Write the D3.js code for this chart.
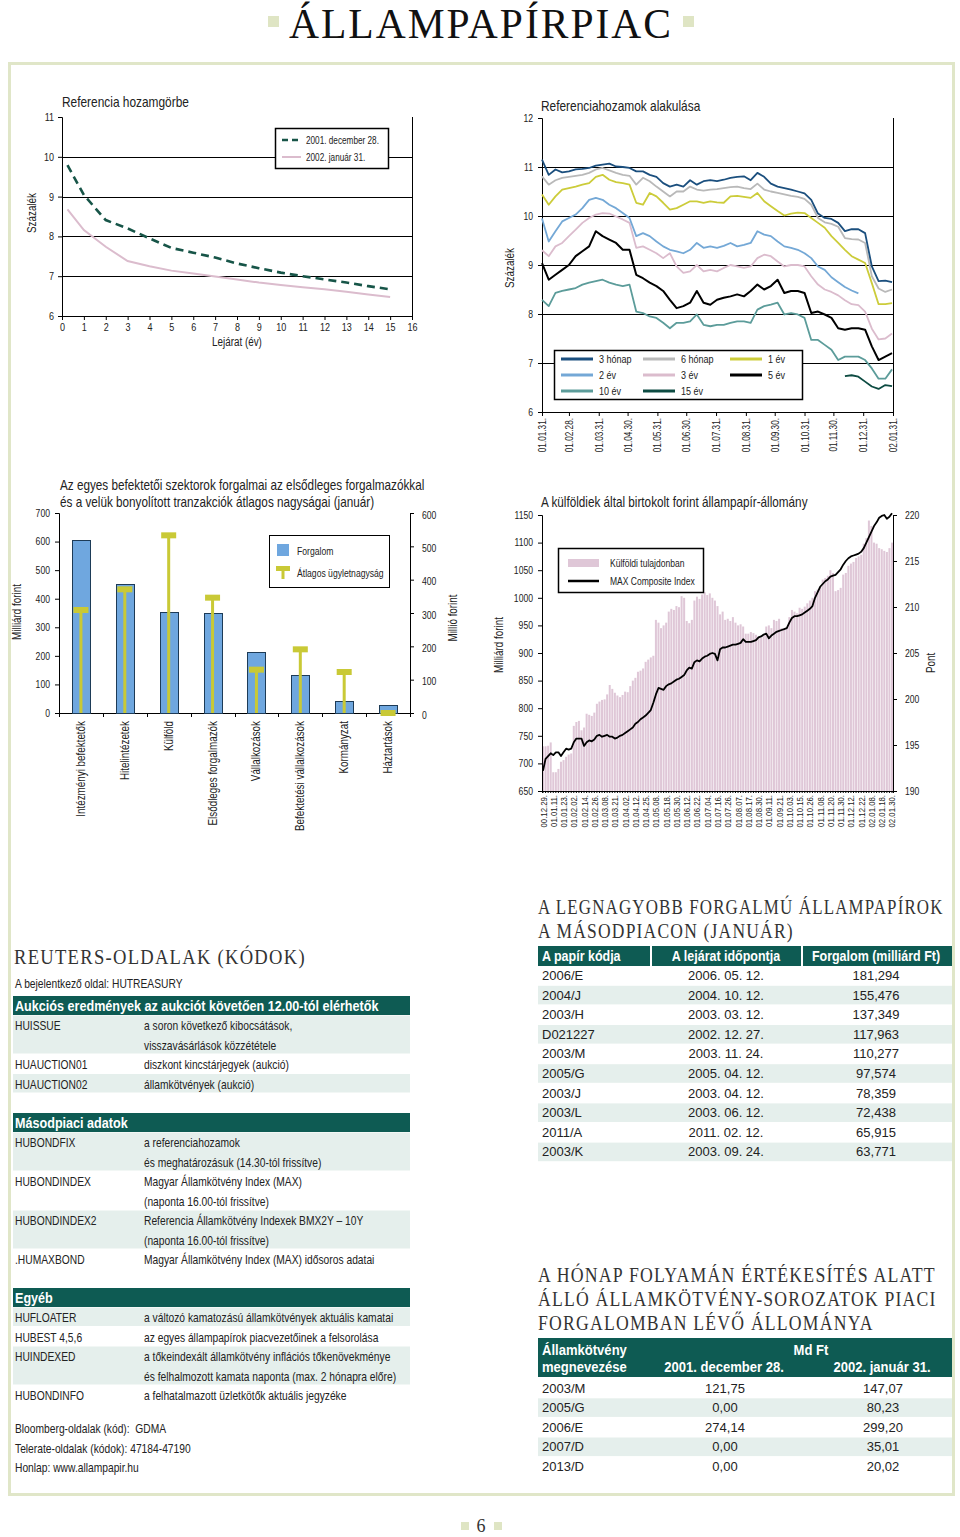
<!DOCTYPE html>
<html><head><meta charset="utf-8">
<script src="https://cdn.jsdelivr.net/npm/d3@7"></script>
<style>
body{margin:0;background:#fff}
svg{display:block}
</style>
</head><body>
<svg id="c" width="960" height="1537"></svg>
<script>
// ================= DATA =================
// Chart 1: Referencia hozamgörbe
const curveMaturity = [0.25,1,2,3,4,5,6,7,8,9,10,11,12,13,14,15];
const curveDec28 = [9.79,9.04,8.41,8.20,7.95,7.71,7.59,7.47,7.32,7.20,7.09,7.00,6.92,6.84,6.75,6.67];
const curveJan31 = [8.68,8.16,7.74,7.38,7.25,7.14,7.07,6.99,6.92,6.84,6.78,6.72,6.67,6.61,6.54,6.48];

// Chart 2: Referenciahozamok alakulása (weekly readings from 2001.01.31.)
const monthEndTicks = ["2001-01-31","2001-02-28","2001-03-31","2001-04-30","2001-05-31","2001-06-30","2001-07-31","2001-08-31","2001-09-30","2001-10-31","2001-11-30","2001-12-31","2002-01-31"];
const r3m = [11.15,10.84,10.95,10.89,10.91,10.95,10.96,10.98,11.03,11.05,11.07,11.01,11.0,10.98,10.91,10.91,10.84,10.8,10.67,10.6,10.64,10.6,10.73,10.64,10.71,10.73,10.71,10.74,10.78,10.8,10.81,10.73,10.88,10.8,10.66,10.6,10.57,10.54,10.5,10.46,10.33,10.05,9.96,9.94,9.86,9.69,9.73,9.73,9.65,8.97,8.67,8.68,8.65];
const r6m = [10.81,10.64,10.73,10.78,10.8,10.82,10.84,10.88,10.95,10.98,10.93,10.88,10.84,10.82,10.64,10.78,10.71,10.6,10.5,10.4,10.5,10.5,10.6,10.54,10.52,10.54,10.55,10.57,10.59,10.6,10.57,10.55,10.66,10.54,10.5,10.47,10.44,10.41,10.39,10.35,10.23,9.96,9.87,9.84,9.78,9.55,9.53,9.52,9.45,8.77,8.52,8.45,8.5];
const r1y = [10.44,10.23,10.4,10.54,10.57,10.6,10.64,10.67,10.8,10.84,10.74,10.69,10.67,10.64,10.27,10.23,10.47,10.4,10.27,10.13,10.16,10.23,10.3,10.3,10.27,10.3,10.28,10.27,10.4,10.41,10.39,10.37,10.47,10.3,10.2,10.1,10.01,10.05,10.07,10.06,9.96,9.86,9.76,9.59,9.45,9.31,9.18,9.11,9.04,8.63,8.2,8.2,8.22];
const r2y = [9.95,9.48,9.69,9.89,9.96,10.03,10.16,10.33,10.37,10.33,10.23,10.16,10.06,9.96,9.59,9.65,9.59,9.48,9.38,9.31,9.28,9.24,9.31,9.45,9.35,9.38,9.35,9.39,9.45,9.38,9.41,9.45,9.69,9.62,9.59,9.48,9.38,9.35,9.31,9.24,9.14,8.97,8.9,8.75,8.65,8.55,8.48,8.42,null,null,null,null,null];
const r3y = [9.3,9.18,9.38,9.45,9.59,9.72,9.86,9.96,10.03,10.06,10.05,9.99,9.93,9.86,9.35,9.38,9.31,9.24,9.14,9.24,8.97,8.84,8.87,9.0,8.87,8.9,8.87,8.94,9.0,8.97,8.94,8.97,9.14,9.21,9.18,9.07,8.97,9.0,9.0,8.97,8.77,8.6,8.5,8.45,8.38,8.28,8.2,8.18,8.05,7.7,7.48,7.5,7.6];
const r5y = [9.04,8.7,8.8,8.9,9.0,9.18,9.28,9.38,9.69,9.59,9.52,9.45,9.31,9.31,8.8,8.73,8.64,8.57,8.47,8.29,8.12,8.16,8.23,8.47,8.23,8.19,8.29,8.33,8.36,8.4,8.36,8.47,8.6,8.5,8.57,8.7,8.43,8.47,8.47,8.43,8.02,8.05,7.99,7.92,7.71,7.68,7.71,7.71,7.68,7.34,7.06,7.13,7.2];
const r10y = [8.29,8.16,8.43,8.47,8.5,8.53,8.6,8.64,8.67,8.7,8.64,8.6,8.57,8.6,8.05,8.02,7.95,7.92,7.82,7.71,7.82,7.82,7.85,7.99,7.78,7.75,7.78,7.78,7.82,7.85,7.85,7.82,8.09,8.16,8.19,8.23,7.99,8.02,7.99,7.92,7.47,7.47,7.37,7.27,7.06,7.13,7.13,7.13,7.06,6.89,6.68,6.68,6.87];
const r15y = [null,null,null,null,null,null,null,null,null,null,null,null,null,null,null,null,null,null,null,null,null,null,null,null,null,null,null,null,null,null,null,null,null,null,null,null,null,null,null,null,null,null,null,null,null,6.73,6.75,6.72,6.62,6.52,6.47,6.55,6.53];
const seriesNames2 = ["3 hónap","6 hónap","1 év","2 év","3 év","5 év","10 év","15 év"];

// Chart 3: szektorok
const sectors = ["Intézményi befektetők","Hitelintézetek","Külföld","Elsődleges forgalmazók","Vállalkozások","Befektetési vállalkozások","Kormányzat","Háztartások"];
const sectorTurnover = [606,451,354,350,212,132,41,27];
const sectorAvgSize = [309,371,533,346,130,191,123,0];

// Chart 4: külföldiek állománya (every bar) and MAX index
const foreignDateLabels = ["00.12.29.","01.01.11.","01.01.23.","01.02.02.","01.02.14.","01.02.26.","01.03.08.","01.03.21.","01.04.02.","01.04.12.","01.04.25.","01.05.08.","01.05.18.","01.05.30.","01.06.12.","01.06.22.","01.07.04.","01.07.16.","01.07.26.","01.08.07.","01.08.17.","01.08.30.","01.09.11.","01.09.21.","01.10.03.","01.10.15.","01.10.26.","01.11.08.","01.11.20.","01.11.30.","01.12.12.","01.12.22.","02.01.08.","02.01.18.","02.01.30."];
const foreignHoldings = [731,731,732,738,684,684,690,703,706,712,716,718,768,775,777,760,765,790,788,786,792,808,812,815,816,825,842,835,828,823,820,824,830,829,840,850,855,866,868,872,884,888,892,895,960,955,945,950,955,975,980,978,985,983,1003,1000,958,954,960,995,1002,998,1006,1010,1005,1008,1000,995,985,970,975,960,962,958,965,955,950,952,948,935,935,938,936,933,930,928,932,948,950,945,960,958,962,945,942,946,965,978,975,972,982,980,984,990,995,1000,1012,1015,1020,1033,1036,1040,1050,1045,1012,1014,1018,1042,1045,1058,1062,1065,1072,1075,1078,1098,1108,1140,1130,1100,1098,1090,1088,1085,1083,1090,1100];
const maxIndex = [192.2,193.5,193.8,194.1,193.9,194.2,194.2,193.8,194.2,194.6,194.5,194.6,195.3,195.7,195.7,195.7,194.9,195.3,195.5,195.4,195.6,196.0,196.1,195.9,196.0,196.1,195.9,195.9,195.7,195.8,196.0,196.1,196.3,196.5,196.7,196.9,197.3,197.5,197.8,198.0,198.2,198.5,198.8,199.6,200.5,201.2,201.1,201.0,201.4,201.6,201.7,201.9,202.1,202.2,202.4,202.6,203.1,203.4,203.3,204.0,204.2,204.1,204.4,204.6,204.7,204.9,205.0,204.9,204.2,205.4,205.6,205.6,205.7,205.8,205.9,205.9,206.0,206.1,206.5,206.2,206.2,206.2,206.3,206.4,206.7,206.8,207.0,207.1,206.6,206.9,207.1,207.3,207.4,207.5,207.6,207.7,208.3,208.8,209.0,209.0,209.1,209.2,209.4,209.6,209.8,210.1,211.0,211.6,212.2,212.5,212.8,213.0,213.3,213.4,213.5,213.8,214.1,214.6,215.0,215.3,215.5,215.6,215.7,215.8,216.0,216.4,217.0,217.6,218.2,218.8,219.2,219.7,219.9,220.0,219.6,219.8,220.2];

// Tables
const paperCodes = ["2006/E","2004/J","2003/H","D021227","2003/M","2005/G","2003/J","2003/L","2011/A","2003/K"];
const paperMaturity = ["2006. 05. 12.","2004. 10. 12.","2003. 03. 12.","2002. 12. 27.","2003. 11. 24.","2005. 04. 12.","2003. 04. 12.","2003. 06. 12.","2011. 02. 12.","2003. 09. 24."];
const paperTurnover = ["181,294","155,476","137,349","117,963","110,277","97,574","78,359","72,438","65,915","63,771"];
const bondNames = ["2003/M","2005/G","2006/E","2007/D","2013/D"];
const bondDec28 = ["121,75","0,00","274,14","0,00","0,00"];
const bondJan31 = ["147,07","80,23","299,20","35,01","20,02"];

const reutersSections = ["Aukciós eredmények az aukciót követően 12.00-tól elérhetők","Másodpiaci adatok","Egyéb"];
const reutersRows1 = [["HUISSUE","a soron következő kibocsátások,","visszavásárlások közzététele"],["HUAUCTION01","diszkont kincstárjegyek (aukció)"],["HUAUCTION02","államkötvények (aukció)"]];
const reutersRows2 = [["HUBONDFIX","a referenciahozamok","és meghatározásuk (14.30-tól frissítve)"],["HUBONDINDEX","Magyar Államkötvény Index (MAX)","(naponta 16.00-tól frissítve)"],["HUBONDINDEX2","Referencia Államkötvény Indexek BMX2Y – 10Y","(naponta 16.00-tól frissítve)"],[".HUMAXBOND","Magyar Államkötvény Index (MAX) idősoros adatai"]];
const reutersRows3 = [["HUFLOATER","a változó kamatozású államkötvények aktuális kamatai"],["HUBEST 4,5,6","az egyes állampapírok piacvezetőinek a felsorolása"],["HUINDEXED","a tőkeindexált államkötvény inflációs tőkenövekménye","és felhalmozott kamata naponta (max. 2 hónapra előre)"],["HUBONDINFO","a felhatalmazott üzletkötők aktuális jegyzéke"]];
const otherPages = ["Bloomberg-oldalak (kód):  GDMA","Telerate-oldalak (kódok): 47184-47190","Honlap: www.allampapir.hu"];

// ================= DRAWING =================
const FONT = '"Liberation Sans",Arial,"DejaVu Sans",sans-serif';
const SERIF = '"Liberation Serif","DejaVu Serif",serif';
const TEAL = '#0e5b53', BAND = '#e5efec', FRAME = '#e0e6c8';
const NAR = 0.82;
const svg = d3.select('#c');
svg.append('rect').attr('width',960).attr('height',1537).attr('fill','#fff');

function txt(g, x, y, s, size, opts={}) {
  const t = g.append('text').attr('x',x).attr('y',y).text(s)
    .style('font-family', FONT).style('white-space','pre').attr('font-size', size)
    .attr('fill', opts.fill || '#222');
  if (opts.anchor) t.attr('text-anchor', opts.anchor);
  if (opts.weight) t.attr('font-weight', opts.weight);
  t.attr('data-n', opts.nar == null ? NAR : opts.nar);
  if (opts.rot) t.attr('transform', `rotate(-90,${x},${y})`);
  return t;
}
// serif heading: natural glyphs, horizontally scaled to the measured width of the reference
function serifHead(g, x, y, s, size, target, opts={}) {
  const t = g.append('text').attr('x',0).attr('y',0).text(s)
    .style('font-family', SERIF).attr('font-size', size).attr('fill', opts.fill || '#333')
    .style('letter-spacing', (opts.ls == null ? 1.5 : opts.ls) + 'px');
  if (opts.anchor) t.attr('text-anchor', opts.anchor);
  const w = t.node().getComputedTextLength();
  t.attr('transform', `translate(${x},${y}) scale(${(target/w).toFixed(4)},1)`);
  return t;
}
function styleAxis(g, fs) {
  g.attr('font-family', null).attr('font-size', null);
  g.selectAll('text').style('font-family', FONT).attr('font-size', fs).attr('fill','#222').attr('data-n', NAR);
  g.selectAll('line,path').attr('stroke','#000');
}
const h = v => Math.round(v) + 0.5;

// Header
serifHead(svg, 481, 38, 'ÁLLAMPAPÍRPIAC', 42, 384, {anchor:'middle', fill:'#111', ls:2});
svg.append('rect').attr('x',268).attr('y',16).attr('width',11).attr('height',11).attr('fill','#dfe5c4');
svg.append('rect').attr('x',683).attr('y',16).attr('width',11).attr('height',11).attr('fill','#dfe5c4');
// Frame
svg.append('rect').attr('x',9.5).attr('y',63.5).attr('width',944).attr('height',1431).attr('fill','none').attr('stroke',FRAME).attr('stroke-width',3);
// Footer
svg.append('text').attr('x',481).attr('y',1532).attr('text-anchor','middle').text('6').style('font-family',SERIF).attr('font-size',18).attr('fill','#333');
svg.append('rect').attr('x',461).attr('y',1522).attr('width',8).attr('height',8).attr('fill','#dfe5c4');
svg.append('rect').attr('x',494).attr('y',1522).attr('width',8).attr('height',8).attr('fill','#dfe5c4');

// ---------- Chart 1 ----------
(function(){
  const g = svg.append('g');
  const x = d3.scaleLinear([0,16],[62,412]);
  const y = d3.scaleLinear([6,11],[316,117]);
  txt(g, 62, 107, 'Referencia hozamgörbe', 14.5);
  g.selectAll('line.grid').data([7,8,9,10]).join('line').attr('class','grid')
    .attr('x1',62).attr('x2',412).attr('y1',d=>h(y(d))).attr('y2',d=>h(y(d))).attr('stroke','#000');
  g.append('line').attr('x1',h(412)).attr('x2',h(412)).attr('y1',y(11)).attr('y2',y(6)).attr('stroke','#000');
  const ax = g.append('g').attr('transform',`translate(${Math.round(x(0))},0)`).call(d3.axisLeft(y).ticks(5).tickSize(4).tickPadding(4));
  styleAxis(ax, 11);
  const bx = g.append('g').attr('transform',`translate(0,${Math.round(y(6))})`).call(d3.axisBottom(x).ticks(16).tickSize(4).tickPadding(3));
  styleAxis(bx, 11);
  txt(g, 237, 346, 'Lejárat (év)', 12, {anchor:'middle'});
  txt(g, 36, 213, 'Százalék', 12, {anchor:'middle', rot:true});
  const line = d3.line().x((d,i)=>x(curveMaturity[i])).y(d=>y(d));
  g.append('path').attr('d', line(curveJan31)).attr('fill','none').attr('stroke','#dbbccd').attr('stroke-width',2);
  g.append('path').attr('d', line(curveDec28)).attr('fill','none').attr('stroke','#175548').attr('stroke-width',2.6).attr('stroke-dasharray','8,5');
  // legend
  g.append('rect').attr('x',275.5).attr('y',128.5).attr('width',113).attr('height',40).attr('fill','#fff').attr('stroke','#000').attr('stroke-width',1.5);
  g.append('line').attr('x1',282).attr('x2',301).attr('y1',140).attr('y2',140).attr('stroke','#175548').attr('stroke-width',2.6).attr('stroke-dasharray','6,4');
  g.append('line').attr('x1',282).attr('x2',301).attr('y1',157).attr('y2',157).attr('stroke','#dbbccd').attr('stroke-width',2);
  txt(g, 306, 143.5, '2001. december 28.', 10);
  txt(g, 306, 160.5, '2002. január 31.', 10);
})();

// ---------- Chart 2 ----------
(function(){
  const g = svg.append('g');
  const parse = d3.timeParse('%Y-%m-%d');
  const ticks = monthEndTicks.map(parse);
  const x = d3.scaleTime([ticks[0], ticks[ticks.length-1]],[542,893]);
  const y = d3.scaleLinear([6,12],[412,118]);
  const dates = r3m.map((d,i)=>d3.timeDay.offset(ticks[0], 7*i));
  txt(g, 541, 111, 'Referenciahozamok alakulása', 14.5);
  g.selectAll('line.grid').data([7,8,9,10,11]).join('line').attr('class','grid')
    .attr('x1',542).attr('x2',893).attr('y1',d=>h(y(d))).attr('y2',d=>h(y(d))).attr('stroke','#000');
  g.append('line').attr('x1',h(893)).attr('x2',h(893)).attr('y1',y(12)).attr('y2',y(6)).attr('stroke','#000');
  const ax = g.append('g').attr('transform','translate(542,0)').call(d3.axisLeft(y).ticks(6).tickSize(4).tickPadding(5));
  styleAxis(ax, 10.5);
  const bx = g.append('g').attr('transform',`translate(0,${Math.round(y(6))})`)
    .call(d3.axisBottom(x).tickValues(ticks).tickFormat(d3.timeFormat('%y.%m.%d.')).tickSize(4).tickPadding(3));
  styleAxis(bx, 10);
  bx.selectAll('text').attr('text-anchor','end').attr('dy','0.35em').attr('transform','translate(0,4) rotate(-90)').attr('y',0).attr('x',-2);
  txt(g, 514, 268, 'Százalék', 12, {anchor:'middle', rot:true});
  const series = [r3m,r6m,r1y,r2y,r3y,r5y,r10y,r15y];
  const colors = ['#1b4f7e','#b9b9b9','#cccc3a','#74a8d6','#dbbccd','#000000','#5c9c9a','#0d4b42'];
  const line = d3.line().defined(d=>d!=null).x((d,i)=>x(dates[i])).y(d=>y(d));
  const order = [7,6,5,4,3,2,1,0];
  order.forEach(k=>{
    g.append('path').attr('d', line(series[k])).attr('fill','none').attr('stroke',colors[k]).attr('stroke-width', k===5?2:1.8).attr('stroke-linejoin','round');
  });
  // legend
  g.append('rect').attr('x',554.5).attr('y',350.5).attr('width',248).attr('height',49).attr('fill','#fff').attr('stroke','#000').attr('stroke-width',1.5);
  const lx = [561,643,730], ty = [359,375,391];
  seriesNames2.forEach((n,i)=>{
    const c = i%3, r = Math.floor(i/3);
    g.append('line').attr('x1',lx[c]).attr('x2',lx[c]+32).attr('y1',ty[r]).attr('y2',ty[r]).attr('stroke',colors[i]).attr('stroke-width',3);
    txt(g, lx[c]+38, ty[r]+4, n, 11);
  });
})();

// ---------- Chart 3 ----------
(function(){
  const g = svg.append('g');
  const x = d3.scaleBand(sectors,[59,410]);
  const yl = d3.scaleLinear([0,700],[713,513]);
  const yr = d3.scaleLinear([0,600],[713,513]);
  txt(g, 60, 490, 'Az egyes befektetői szektorok forgalmai az elsődleges forgalmazókkal', 14.3);
  txt(g, 60, 507, 'és a velük bonyolított tranzakciók átlagos nagyságai (január)', 14.3);
  const ax = g.append('g').attr('transform','translate(59,0)').call(d3.axisLeft(yl).ticks(7).tickSize(4).tickPadding(5));
  styleAxis(ax, 10.5);
  const ar = g.append('g').attr('transform','translate(410,0)').call(d3.axisRight(yr).ticks(6).tickSize(4).tickPadding(8));
  styleAxis(ar, 10.5);
  ar.selectAll('text').attr('dy','0.5em');
  const bx = g.append('g').attr('transform','translate(0,713)').call(d3.axisBottom(x).tickSize(0).tickFormat(''));
  styleAxis(bx, 10);
  g.selectAll('line.sep').data(d3.range(sectors.length+1)).join('line').attr('class','sep')
    .attr('x1',i=>h(59+i*x.step())).attr('x2',i=>h(59+i*x.step())).attr('y1',713).attr('y2',717).attr('stroke','#000');
  const bw = 18;
  g.selectAll('rect.bar').data(sectorTurnover).join('rect').attr('class','bar')
    .attr('x',(d,i)=>Math.round(x(sectors[i])+x.bandwidth()/2-bw/2)+0.5).attr('width',bw)
    .attr('y',d=>Math.round(yl(d))+0.5).attr('height',d=>713-Math.round(yl(d)))
    .attr('fill','#6fa7df').attr('stroke','#1d3b57').attr('stroke-width',1);
  g.selectAll('rect.stem').data(sectorAvgSize).join('rect').attr('class','stem')
    .attr('x',(d,i)=>x(sectors[i])+x.bandwidth()/2-1.5).attr('width',3)
    .attr('y',d=>yr(d)).attr('height',d=>713-yr(d)).attr('fill','#c9c936');
  g.selectAll('rect.cap').data(sectorAvgSize).join('rect').attr('class','cap')
    .attr('x',(d,i)=>x(sectors[i])+x.bandwidth()/2-7.5).attr('width',15)
    .attr('y',d=>yr(d)-3).attr('height',6).attr('fill','#c9c936');
  sectors.forEach((s,i)=>{
    txt(g, x(s)+x.bandwidth()/2+4, 721, s, 12, {anchor:'end', rot:true});
  });
  txt(g, 21, 612, 'Milliárd forint', 12, {anchor:'middle', rot:true});
  txt(g, 457, 618, 'Millió forint', 12, {anchor:'middle', rot:true});
  // legend
  g.append('rect').attr('x',269.5).attr('y',535.5).attr('width',120).attr('height',52).attr('fill','#fff').attr('stroke','#000').attr('stroke-width',1);
  g.append('rect').attr('x',277).attr('y',544).attr('width',12).attr('height',12).attr('fill','#6fa7df');
  g.append('rect').attr('x',276).attr('y',566).attr('width',14).attr('height',5).attr('fill','#c9c936');
  g.append('rect').attr('x',281.5).attr('y',566).attr('width',3).attr('height',13).attr('fill','#c9c936');
  txt(g, 297, 554.5, 'Forgalom', 10.5);
  txt(g, 297, 576.5, 'Átlagos ügyletnagyság', 10.5);
})();

// ---------- Chart 4 ----------
(function(){
  const g = svg.append('g');
  const idx = d3.range(foreignHoldings.length);
  const x = d3.scaleBand(idx,[542,893]).paddingInner(0.22);
  const yl = d3.scaleLinear([650,1150],[791,515]);
  const yr = d3.scaleLinear([190,220],[791,515]);
  txt(g, 541, 507, 'A külföldiek által birtokolt forint állampapír-állomány', 14.3);
  g.selectAll('rect.bar').data(foreignHoldings).join('rect').attr('class','bar')
    .attr('x',(d,i)=>x(i)).attr('width',x.bandwidth()).attr('y',d=>yl(d)).attr('height',d=>791-yl(d)).attr('fill','#dfc7d7');
  const ax = g.append('g').attr('transform','translate(542,0)').call(d3.axisLeft(yl).ticks(10).tickFormat(d3.format('d')).tickSize(4).tickPadding(5));
  styleAxis(ax, 10.5);
  const ar = g.append('g').attr('transform','translate(893,0)').call(d3.axisRight(yr).ticks(6).tickSize(4).tickPadding(8));
  styleAxis(ar, 10.5);
  const bx = g.append('g').attr('transform','translate(0,791)').call(d3.axisBottom(x).tickSize(2).tickFormat(''));
  styleAxis(bx, 8);
  foreignDateLabels.forEach((s,i)=>{
    const cx = x(i*4) + x.bandwidth()/2;
    txt(g, cx+3.5, 795, s, 9.5, {anchor:'end', rot:true});
  });
  const line = d3.line().x((d,i)=>x(i)+x.bandwidth()/2).y(d=>yr(d));
  g.append('path').attr('d', line(maxIndex)).attr('fill','none').attr('stroke','#000').attr('stroke-width',1.8).attr('stroke-linejoin','round');
  txt(g, 503, 645, 'Milliárd forint', 12, {anchor:'middle', rot:true});
  txt(g, 935, 663, 'Pont', 12, {anchor:'middle', rot:true});
  // legend
  g.append('rect').attr('x',558.5).attr('y',548.5).attr('width',145).attr('height',44).attr('fill','#fff').attr('stroke','#000').attr('stroke-width',1.5);
  g.append('rect').attr('x',568).attr('y',559).attr('width',31).attr('height',8).attr('fill','#dfc7d7');
  g.append('line').attr('x1',568).attr('x2',599).attr('y1',581).attr('y2',581).attr('stroke','#000').attr('stroke-width',2.5);
  txt(g, 610, 566.5, 'Külföldi tulajdonban', 10.4);
  txt(g, 610, 584.5, 'MAX Composite Index', 10.4);
})();

// ---------- Reuters ----------
(function(){
  const g = svg.append('g');
  const RS = 13.5, RN = 0.76;
  serifHead(g, 14, 964, 'REUTERS-OLDALAK (KÓDOK)', 22, 292);
  txt(g, 15, 987.5, 'A bejelentkező oldal: HUTREASURY', RS, {nar:RN});
  const LH = 19.5;
  function section(title, top, rows) {
    g.append('rect').attr('x',13).attr('y',top).attr('width',397).attr('height',19).attr('fill',TEAL);
    txt(g, 15, top+15, title, 15, {weight:'bold', fill:'#fff', nar:0.84});
    let c = top + 19 + LH/2 + 0.5;
    rows.forEach((r,ri)=>{
      const n = r.length - 1;
      if (ri % 2 === 0) g.append('rect').attr('x',13).attr('y',c-LH/2).attr('width',397).attr('height',LH*n-1).attr('fill',BAND);
      txt(g, 15, c+5, r[0], RS, {nar:RN});
      for (let k=1;k<=n;k++) { txt(g, 144, c+5, r[k], RS, {nar:RN}); c += LH; }
    });
  }
  section(reutersSections[0], 996, reutersRows1);
  section(reutersSections[1], 1113, reutersRows2);
  section(reutersSections[2], 1288, reutersRows3);
  otherPages.forEach((s,i)=>txt(g, 15, 1433+i*19.5, s, RS, {nar:RN}));
})();

// ---------- Table 1 ----------
(function(){
  const g = svg.append('g');
  serifHead(g, 538, 914, 'A LEGNAGYOBB FORGALMÚ ÁLLAMPAPÍROK', 22, 406);
  serifHead(g, 538, 938, 'A MÁSODPIACON (JANUÁR)', 22, 256);
  const cells = [[538,650],[652,801],[803,952]];
  cells.forEach(c=>g.append('rect').attr('x',c[0]).attr('y',946).attr('width',c[1]-c[0]).attr('height',20).attr('fill',TEAL));
  txt(g, 542, 961, 'A papír kódja', 14.5, {weight:'bold', fill:'#fff', nar:0.86});
  txt(g, 726, 961, 'A lejárat időpontja', 14.5, {weight:'bold', fill:'#fff', anchor:'middle', nar:0.86});
  txt(g, 876, 961, 'Forgalom (milliárd Ft)', 14.5, {weight:'bold', fill:'#fff', anchor:'middle', nar:0.86});
  paperCodes.forEach((p,i)=>{
    const c = 975.5 + i*19.6;
    if (i%2===1) g.append('rect').attr('x',538).attr('y',c-9.3).attr('width',414).attr('height',18.6).attr('fill',BAND);
    txt(g, 542, c+4.5, p, 13, {nar:1});
    txt(g, 726, c+4.5, paperMaturity[i], 13, {anchor:'middle', nar:1});
    txt(g, 876, c+4.5, paperTurnover[i], 13, {anchor:'middle', nar:1});
  });
})();

// ---------- Table 2 ----------
(function(){
  const g = svg.append('g');
  serifHead(g, 538, 1282, 'A HÓNAP FOLYAMÁN ÉRTÉKESÍTÉS ALATT', 22, 398);
  serifHead(g, 538, 1306, 'ÁLLÓ ÁLLAMKÖTVÉNY-SOROZATOK PIACI', 22, 399);
  serifHead(g, 538, 1330, 'FORGALOMBAN LÉVŐ ÁLLOMÁNYA', 22, 336);
  g.append('rect').attr('x',538).attr('y',1338).attr('width',414).attr('height',39).attr('fill',TEAL);
  txt(g, 542, 1355, 'Államkötvény', 14.5, {weight:'bold', fill:'#fff', nar:0.9});
  txt(g, 542, 1372, 'megnevezése', 14.5, {weight:'bold', fill:'#fff', nar:0.9});
  txt(g, 811, 1355, 'Md Ft', 14.5, {weight:'bold', fill:'#fff', anchor:'middle', nar:0.9});
  txt(g, 724, 1372, '2001. december 28.', 14.5, {weight:'bold', fill:'#fff', anchor:'middle', nar:0.9});
  txt(g, 882, 1372, '2002. január 31.', 14.5, {weight:'bold', fill:'#fff', anchor:'middle', nar:0.9});
  bondNames.forEach((b,i)=>{
    const c = 1388 + i*19.6;
    if (i%2===1) g.append('rect').attr('x',538).attr('y',c-9.3).attr('width',414).attr('height',18.6).attr('fill',BAND);
    txt(g, 542, c+4.5, b, 13, {nar:1});
    txt(g, 725, c+4.5, bondDec28[i], 13, {anchor:'middle', nar:1});
    txt(g, 883, c+4.5, bondJan31[i], 13, {anchor:'middle', nar:1});
  });
})();

// ---------- condensed text (narrow sans) ----------
svg.selectAll('text[data-n]').each(function(){
  const f = +this.getAttribute('data-n');
  if (f === 1) return;
  const w = this.getComputedTextLength();
  if (w > 0) { this.setAttribute('textLength', (w*f).toFixed(2)); this.setAttribute('lengthAdjust','spacingAndGlyphs'); }
});
</script>
</body></html>
